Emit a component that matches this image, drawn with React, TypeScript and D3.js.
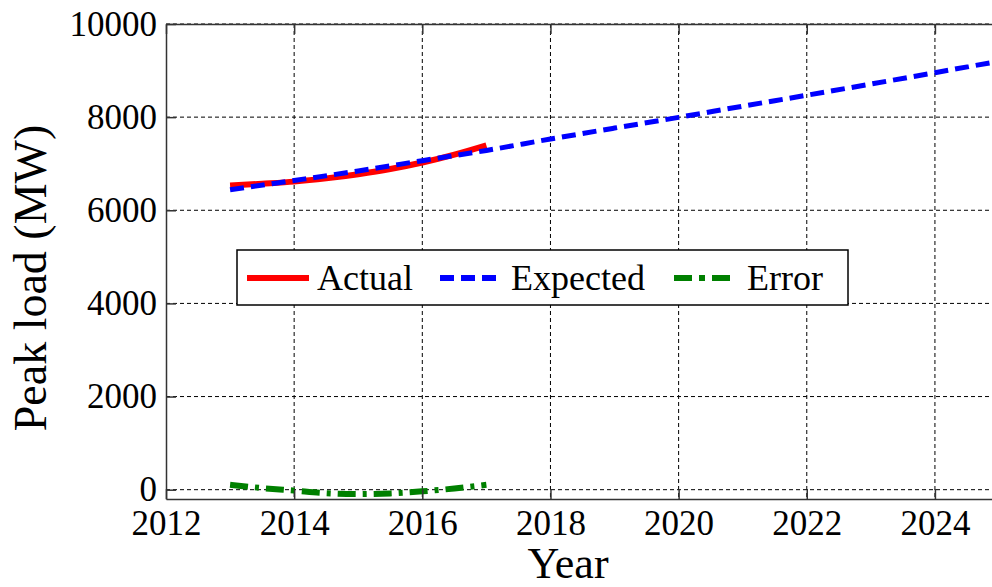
import { useEffect, useRef } from "react";
import * as d3 from "d3";

// values
const actualYears = [2013, 2013.5, 2014, 2014.5, 2015, 2015.5, 2016, 2016.5, 2017];
const actualLoad = [6530, 6570, 6615, 6685, 6775, 6885, 7025, 7195, 7395];

const expectedYears = [2013, 2014, 2015, 2016, 2017, 2018, 2019, 2020, 2021, 2022, 2023, 2024, 2025];
const expectedLoad = [6440, 6640, 6845, 7065, 7285, 7530, 7765, 7995, 8235, 8470, 8710, 8955, 9200];

const errorYears = [2013, 2013.5, 2014, 2014.5, 2015, 2015.5, 2016, 2016.5, 2017];
const errorLoad = [105, 35, -20, -75, -95, -80, -35, 25, 105];

const xTicks = [2012, 2014, 2016, 2018, 2020, 2022, 2024];
const yTicks = [0, 2000, 4000, 6000, 8000, 10000];

const legendLabels = ["Actual", "Expected", "Error"];

const FONT = "'Liberation Serif', 'Times New Roman', serif";
const W = 992;
const H = 587;

export default function App() {
    const svgRef = useRef<SVGSVGElement>(null);

    useEffect(() => {
        if (!svgRef.current) return;
        const svg = d3.select(svgRef.current);
        svg.selectAll("*").remove();

        const margin = { top: 24, left: 166 };
        const innerWidth = 833;
        const innerHeight = 475;

        const x = d3.scaleLinear().domain([2012, 2025]).range([0, innerWidth]);
        const y = d3.scaleLinear().domain([-200, 10000]).range([innerHeight, 0]);

        const g = svg.append("g").attr("transform", `translate(${margin.left},${margin.top})`);

        // dashed grid
        const grid = g.append("g").attr("stroke", "#000").attr("stroke-width", 1).attr("stroke-dasharray", "4,3");
        grid.selectAll("line.vx")
            .data(xTicks.slice(1))
            .enter()
            .append("line")
            .attr("x1", (d) => x(d))
            .attr("x2", (d) => x(d))
            .attr("y1", 0)
            .attr("y2", innerHeight);
        grid.selectAll("line.hy")
            .data(yTicks)
            .enter()
            .append("line")
            .attr("x1", 0)
            .attr("x2", innerWidth)
            .attr("y1", (d) => y(d))
            .attr("y2", (d) => y(d));

        const line = (xs: number[], ys: number[]) =>
            d3
                .line<number>()
                .x((_, i) => x(xs[i]))
                .y((d) => y(d))
                .curve(d3.curveMonotoneX)(ys) ?? "";

        g.append("path")
            .attr("d", line(actualYears, actualLoad))
            .attr("fill", "none")
            .attr("stroke", "#ff0000")
            .attr("stroke-width", 6);

        g.append("path")
            .attr("d", line(expectedYears, expectedLoad))
            .attr("fill", "none")
            .attr("stroke", "#0000ff")
            .attr("stroke-width", 5)
            .attr("stroke-dasharray", "14,7");

        g.append("path")
            .attr("d", line(errorYears, errorLoad))
            .attr("fill", "none")
            .attr("stroke", "#008000")
            .attr("stroke-width", 6)
            .attr("stroke-dasharray", "18,7,4,7");

        // axes, ticks inward like matlab
        const axisColor = "#333";
        const bottom = g.append("g")
            .attr("transform", `translate(0,${innerHeight})`)
            .call(d3.axisBottom(x).tickValues(xTicks).tickFormat(d3.format("d")).tickSizeInner(-10).tickSizeOuter(0).tickPadding(11));
        const left = g.append("g")
            .call(d3.axisLeft(y).tickValues(yTicks).tickFormat(d3.format("d")).tickSizeInner(-10).tickSizeOuter(0).tickPadding(9));
        const top = g.append("g")
            .call(d3.axisTop(x).tickValues(xTicks).tickFormat(() => "").tickSizeInner(-10).tickSizeOuter(0));

        [bottom, left, top].forEach((ax) => {
            ax.select(".domain").attr("stroke", axisColor).attr("stroke-width", 1.5);
            ax.selectAll(".tick line").attr("stroke", axisColor).attr("stroke-width", 1.5);
            ax.selectAll("text").attr("fill", "#000").attr("font-family", FONT).attr("font-size", 35);
        });

        // axis titles
        svg.append("text")
            .attr("x", 568)
            .attr("y", 578)
            .attr("text-anchor", "middle")
            .attr("font-family", FONT)
            .attr("font-size", 44)
            .text("Year");

        svg.append("text")
            .attr("transform", "translate(46,278) rotate(-90)")
            .attr("text-anchor", "middle")
            .attr("font-family", FONT)
            .attr("font-size", 46)
            .text("Peak load (MW)");

        // legend
        const lg = svg.append("g");
        lg.append("rect")
            .attr("x", 237)
            .attr("y", 250)
            .attr("width", 611)
            .attr("height", 55)
            .attr("fill", "#fff")
            .attr("stroke", "#000")
            .attr("stroke-width", 1.5);

        const samples = [
            { x0: 247, tx: 317, color: "#ff0000", dash: null as string | null },
            { x0: 440, tx: 511, color: "#0000ff", dash: "14,7" },
            { x0: 674, tx: 747, color: "#008000", dash: "18,7,6,7" },
        ];
        samples.forEach((s, i) => {
            lg.append("line")
                .attr("x1", s.x0)
                .attr("x2", s.x0 + 62)
                .attr("y1", 278)
                .attr("y2", 278)
                .attr("stroke", s.color)
                .attr("stroke-width", 6)
                .attr("stroke-dasharray", s.dash);
            lg.append("text")
                .attr("x", s.tx)
                .attr("y", 290)
                .attr("font-family", FONT)
                .attr("font-size", 36)
                .text(legendLabels[i]);
        });
    }, []);

    return (
        <svg
            ref={svgRef}
            width={W}
            height={H}
            style={{ position: "absolute", left: 0, top: 0, background: "#fff", overflow: "hidden" }}
        />
    );
}
